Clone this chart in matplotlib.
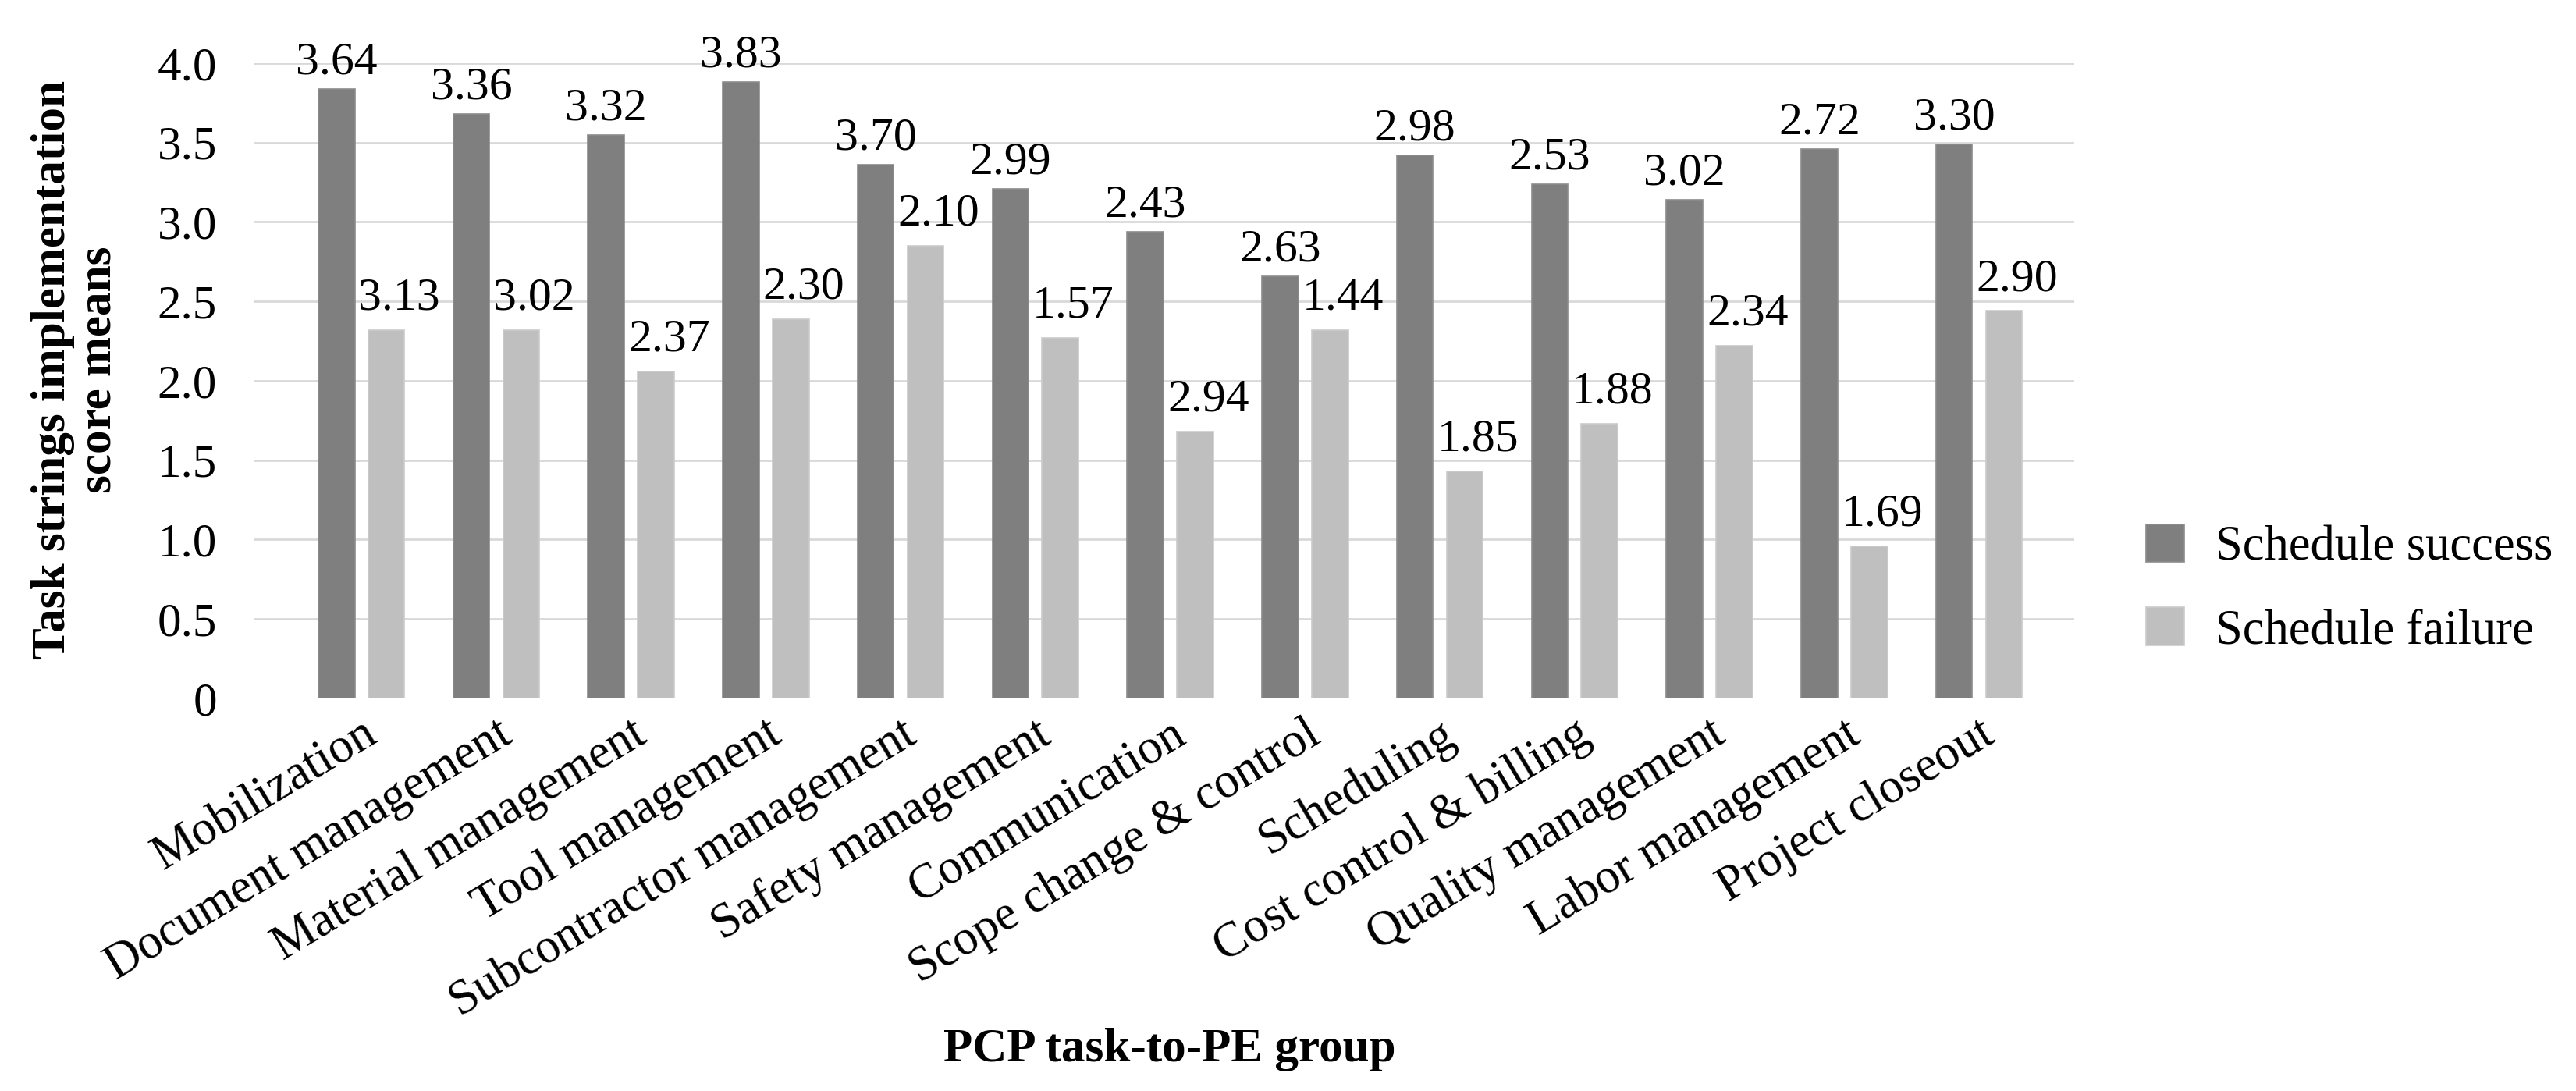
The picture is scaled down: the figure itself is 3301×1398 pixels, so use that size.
import numpy as np
import matplotlib
matplotlib.use("Agg")
import matplotlib.pyplot as plt

plt.rcParams['font.family'] = ['Liberation Serif', 'DejaVu Serif']

# data
groups = ["Mobilization", "Document management", "Material management",
          "Tool management", "Subcontractor management", "Safety management",
          "Communication", "Scope change & control", "Scheduling",
          "Cost control & billing", "Quality management", "Labor management",
          "Project closeout"]
success = [3.84, 3.68, 3.55, 3.88, 3.36, 3.21, 2.94, 2.66, 3.42, 3.24, 3.14, 3.46, 3.49]
failure = [2.32, 2.32, 2.06, 2.39, 2.85, 2.27, 1.68, 2.32, 1.43, 1.73, 2.22, 0.96, 2.44]
# the printed labels (as they appear on the chart)
success_labels = ["3.64", "3.36", "3.32", "3.83", "3.70", "2.99", "2.43",
                  "2.63", "2.98", "2.53", "3.02", "2.72", "3.30"]
failure_labels = ["3.13", "3.02", "2.37", "2.30", "2.10", "1.57", "2.94",
                  "1.44", "1.85", "1.88", "2.34", "1.69", "2.90"]
yticks = [0, 0.5, 1.0, 1.5, 2.0, 2.5, 3.0, 3.5, 4.0]
ytick_labels = ["0", "0.5", "1.0", "1.5", "2.0", "2.5", "3.0", "3.5", "4.0"]

dark = "#7f7f7f"
light = "#bfbfbf"

fig = plt.figure(figsize=(33.01, 13.98), dpi=100)
ax = fig.add_axes([0.0985, 0.3598, 0.7067, 0.5823])

x = np.arange(len(groups))
w = 0.27
off = 0.185
ax.bar(x - off, success, w, color=dark, edgecolor="#8c8c8c", linewidth=1.2,
       label="Schedule success", zorder=3)
ax.bar(x + off, failure, w, color=light, edgecolor="#cbcbcb", linewidth=1.2,
       label="Schedule failure", zorder=3)

for i in range(len(groups)):
    ax.annotate(success_labels[i], (x[i] - off, success[i]), xytext=(0, 14),
                textcoords="offset points", ha="center", va="baseline",
                fontsize=43, annotation_clip=False)
    ax.annotate(failure_labels[i], (x[i] + off, failure[i]), xytext=(12, 19),
                textcoords="offset points", ha="center", va="baseline",
                fontsize=43, annotation_clip=False)

ax.set_ylim(0, 4.0)
ax.set_xlim(-0.799, 12.706)
ax.set_yticks(yticks)
ax.set_yticklabels(ytick_labels, fontsize=44)
ax.set_xticks(x)
ax.set_xticklabels(groups, fontsize=45, rotation=31,
                   ha="right", va="top", rotation_mode="anchor")
ax.tick_params(axis="both", length=0)
ax.tick_params(axis="y", pad=34)
ax.tick_params(axis="x", pad=12)
ax.grid(axis="y", color="#d9d9d9", linewidth=2.0, zorder=0)
for s in ax.spines.values():
    s.set_visible(False)

fig.text(97 / 3301, 1 - 474 / 1398, "Task strings implementation\nscore means",
         rotation=90, ha="center", va="center", fontsize=44, fontweight="bold",
         linespacing=1.05)
fig.text(1499 / 3301, 1 - 1360 / 1398, "PCP task-to-PE group", ha="center",
         va="baseline", fontsize=44, fontweight="bold")

fig.legend(loc="center left", bbox_to_anchor=(2750 / 3301, 1 - 755 / 1398),
           frameon=False, fontsize=45, borderpad=0, borderaxespad=0,
           handlelength=0.78, handleheight=0.82, handletextpad=0.64,
           labelspacing=0.75)

fig.savefig("out.png", dpi=100)
